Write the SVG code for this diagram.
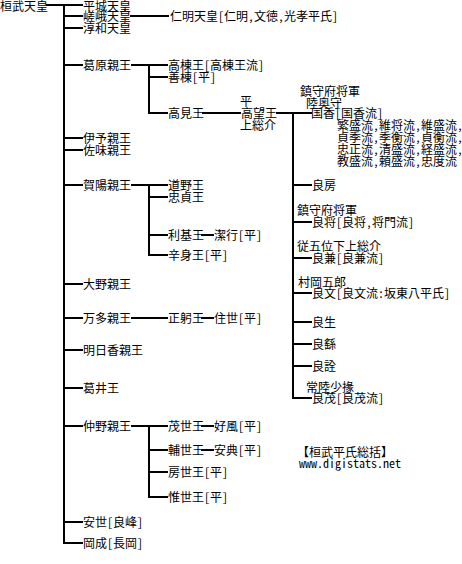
<svg xmlns="http://www.w3.org/2000/svg" width="462" height="564" viewBox="0 0 462 564">
<style>
.t { font-family: "Noto Sans Mono CJK JP", "Noto Sans CJK JP", monospace; font-size: 12px; fill: #000; }
.c { stroke: #000; stroke-width: 2; fill: none; stroke-linecap: square; }
</style>
<rect width="462" height="564" fill="#fff"/>
<g id="connectors" class="c">
  <path d="M47 5H64M64 5V543H82M64 5H82M64 16H82M64 28H82M64 65H82M64 138H82M64 150H82M64 185H82M64 284H82M64 318H82M64 350H82M64 388H82M64 426H82M64 522H82"/>
  <path d="M131 16H168"/>
  <path d="M132 65H167M149 65V113H167M149 77H167M203 113H240"/>
  <path d="M277 113H311M293 113V398H311M293 185H311M293 222H311M293 258H311M293 293H311M293 322H311M293 344H311M293 366H311"/>
  <path d="M132 185H167M149 185V255H167M149 197H167M149 235H167M202 235H213"/>
  <path d="M132 318H167M202 318H213"/>
  <path d="M132 426H167M149 426V497H167M149 450H167M149 472H167M202 426H213M202 450H213"/>
</g>
<g id="n-kanmu"><text class="t" x="0" y="10.5">桓武天皇</text></g>
<g id="n-heizei"><text class="t" x="83" y="10.5">平城天皇</text></g>
<g id="n-saga"><text class="t" x="83" y="21">嵯峨天皇</text></g>
<g id="n-junna"><text class="t" x="83" y="32.5">淳和天皇</text></g>
<g id="n-ninmyo"><text class="t" x="170" y="20.5">仁明天皇[仁明,文徳,光孝平氏]</text></g>
<g id="n-kazurahara"><text class="t" x="83" y="69.5">葛原親王</text></g>
<g id="n-takamune"><text class="t" x="168" y="69.5">高棟王[高棟王流]</text></g>
<g id="n-yoshimune"><text class="t" x="168" y="81.5">善棟[平]</text></g>
<g id="n-takami"><text class="t" x="168" y="117.5">高見王</text></g>
<g id="n-takamochi"><text class="t" x="240" y="105.5">平</text><text class="t" x="241" y="117.5">高望王</text><text class="t" x="240" y="129.5">上総介</text></g>
<g id="n-kunika"><text class="t" x="300" y="95.5">鎮守府将軍</text><text class="t" x="306" y="107.5">陸奥守</text><text class="t" x="311" y="117.5">国香[国香流]</text>
<text class="t" x="337" y="129.5">繁盛流,維将流,維盛流,</text>
<text class="t" x="337" y="141.5">貞季流,季衡流,貞衡流,</text>
<text class="t" x="337" y="153.5">忠正流,清盛流,経盛流,</text>
<text class="t" x="337" y="165.5">教盛流,頼盛流,忠度流</text></g>
<g id="n-iyo"><text class="t" x="83" y="142.5">伊予親王</text></g>
<g id="n-sami"><text class="t" x="83" y="154.5">佐味親王</text></g>
<g id="n-kaya"><text class="t" x="83" y="189.5">賀陽親王</text></g>
<g id="n-michino"><text class="t" x="168" y="189.5">道野王</text></g>
<g id="n-tadasada"><text class="t" x="168" y="201.5">忠貞王</text></g>
<g id="n-toshimoto"><text class="t" x="168" y="239.5">利基王</text></g>
<g id="n-kiyoyuki"><text class="t" x="214" y="239.5">潔行[平]</text></g>
<g id="n-karami"><text class="t" x="168" y="259.5">辛身王[平]</text></g>
<g id="n-yoshifusa"><text class="t" x="312" y="189.5">良房</text></g>
<g id="n-yoshimasa"><text class="t" x="297" y="214.5">鎮守府将軍</text><text class="t" x="312" y="226.5">良将[良将,将門流]</text></g>
<g id="n-yoshikane"><text class="t" x="297" y="250.5">従五位下上総介</text><text class="t" x="312" y="262.5">良兼[良兼流]</text></g>
<g id="n-yoshifumi"><text class="t" x="298" y="286.5">村岡五郎</text><text class="t" x="312" y="297.5">良文[良文流:坂東八平氏]</text></g>
<g id="n-yoshio"><text class="t" x="312" y="326.5">良生</text></g>
<g id="n-yoshiyu"><text class="t" x="312" y="348.5">良繇</text></g>
<g id="n-yoshiakira"><text class="t" x="312" y="370.5">良詮</text></g>
<g id="n-yoshimochi"><text class="t" x="306" y="391.5">常陸少掾</text><text class="t" x="312" y="402.5">良茂[良茂流]</text></g>
<g id="n-ono"><text class="t" x="83" y="288.5">大野親王</text></g>
<g id="n-manda"><text class="t" x="83" y="322.5">万多親王</text></g>
<g id="n-masami"><text class="t" x="168" y="322.5">正躬王</text></g>
<g id="n-sumiyo"><text class="t" x="214" y="322.5">住世[平]</text></g>
<g id="n-asuka"><text class="t" x="83" y="354.5">明日香親王</text></g>
<g id="n-fujii"><text class="t" x="83" y="392.5">葛井王</text></g>
<g id="n-nakano"><text class="t" x="83" y="430.5">仲野親王</text></g>
<g id="n-shigeyo"><text class="t" x="168" y="430.5">茂世王</text></g>
<g id="n-yoshikaze"><text class="t" x="214" y="430.5">好風[平]</text></g>
<g id="n-sukeyo"><text class="t" x="168" y="454.5">輔世王</text></g>
<g id="n-yasunori"><text class="t" x="214" y="454.5">安典[平]</text></g>
<g id="n-fusayo"><text class="t" x="168" y="476.5">房世王[平]</text></g>
<g id="n-koreyo"><text class="t" x="168" y="501.5">惟世王[平]</text></g>
<g id="n-yasuyo"><text class="t" x="83" y="526.5">安世[良峰]</text></g>
<g id="n-okanari"><text class="t" x="83" y="547.5">岡成[長岡]</text></g>
<g id="n-title"><text class="t" x="297" y="456.5">【桓武平氏総括】</text><text class="t" x="299" y="467.5">www.digistats.net</text></g>
</svg>
